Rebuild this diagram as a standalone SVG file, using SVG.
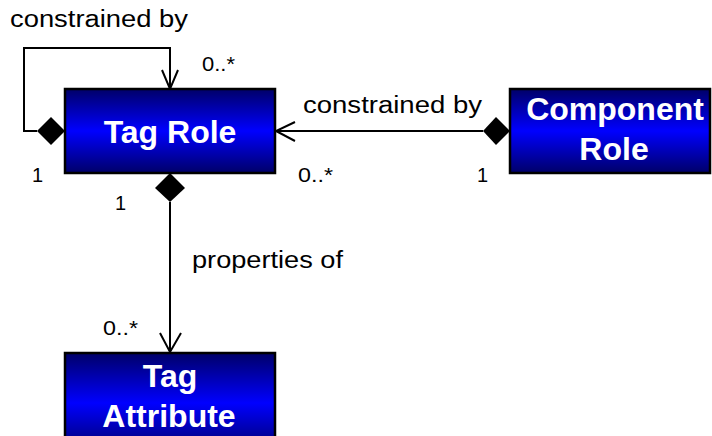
<svg xmlns="http://www.w3.org/2000/svg" width="712" height="436" viewBox="0 0 712 436">
  <defs>
    <linearGradient id="boxFill" x1="0" y1="0" x2="0" y2="1">
      <stop offset="0" stop-color="#000068"/>
      <stop offset="0.5" stop-color="#0000ff"/>
      <stop offset="1" stop-color="#000068"/>
    </linearGradient>
  </defs>
  <style>
    .box { fill: url(#boxFill); stroke: #000; stroke-width: 2.5; }
    .name { font-family: "Liberation Sans", Arial, sans-serif; font-weight: bold; font-size: 32px; fill: #fff; text-anchor: middle; }
    .label { font-family: "Liberation Sans", Arial, sans-serif; font-size: 23px; fill: #000; }
    .mult { font-family: "Liberation Sans", Arial, sans-serif; font-size: 20px; fill: #000; }
    .line { fill: none; stroke: #000; stroke-width: 2; }
    .diamond { fill: #000; stroke: none; }
  </style>

  <!-- connectors -->
  <g id="connectors">
    <!-- self association on Tag Role -->
    <path class="line" d="M37,131 H24 V48 H170 V89"/>
    <path class="line" d="M162,70 L170,89 L178,70"/>
    <polygon class="diamond" points="65,131 51,117 37,131 51,145"/>
    <text class="label" x="10" y="27" textLength="178" lengthAdjust="spacingAndGlyphs">constrained by</text>
    <text class="mult" x="202" y="71" textLength="33" lengthAdjust="spacingAndGlyphs">0..*</text>
    <text class="mult" x="32" y="182">1</text>

    <!-- Component Role to Tag Role -->
    <path class="line" d="M483,131 H276"/>
    <path class="line" d="M295,122 L276,131 L295,141"/>
    <polygon class="diamond" points="510,131 496,117 483,131 496,145"/>
    <text class="label" x="303" y="113" textLength="179" lengthAdjust="spacingAndGlyphs">constrained by</text>
    <text class="mult" x="298" y="182" textLength="35" lengthAdjust="spacingAndGlyphs">0..*</text>
    <text class="mult" x="477" y="182">1</text>

    <!-- Tag Role to Tag Attribute -->
    <path class="line" d="M170,202 V352"/>
    <path class="line" d="M160,333 L170,352 L181,333"/>
    <polygon class="diamond" points="170,173 185,188 170,202 155,188"/>
    <text class="label" x="192" y="268" textLength="151" lengthAdjust="spacingAndGlyphs">properties of</text>
    <text class="mult" x="115" y="210">1</text>
    <text class="mult" x="103" y="335" textLength="35" lengthAdjust="spacingAndGlyphs">0..*</text>
  </g>

  <!-- nodes -->
  <g id="tag-role">
    <rect class="box" x="65" y="89" width="210" height="84"/>
    <text class="name" x="170" y="143">Tag Role</text>
  </g>

  <g id="component-role">
    <rect class="box" x="510" y="89" width="200" height="84"/>
    <text class="name" x="615" y="120">Component</text>
    <text class="name" x="614" y="160">Role</text>
  </g>

  <g id="tag-attribute">
    <rect class="box" x="65" y="353" width="210" height="100"/>
    <text class="name" x="170" y="387">Tag</text>
    <text class="name" x="169" y="427">Attribute</text>
  </g>
</svg>
